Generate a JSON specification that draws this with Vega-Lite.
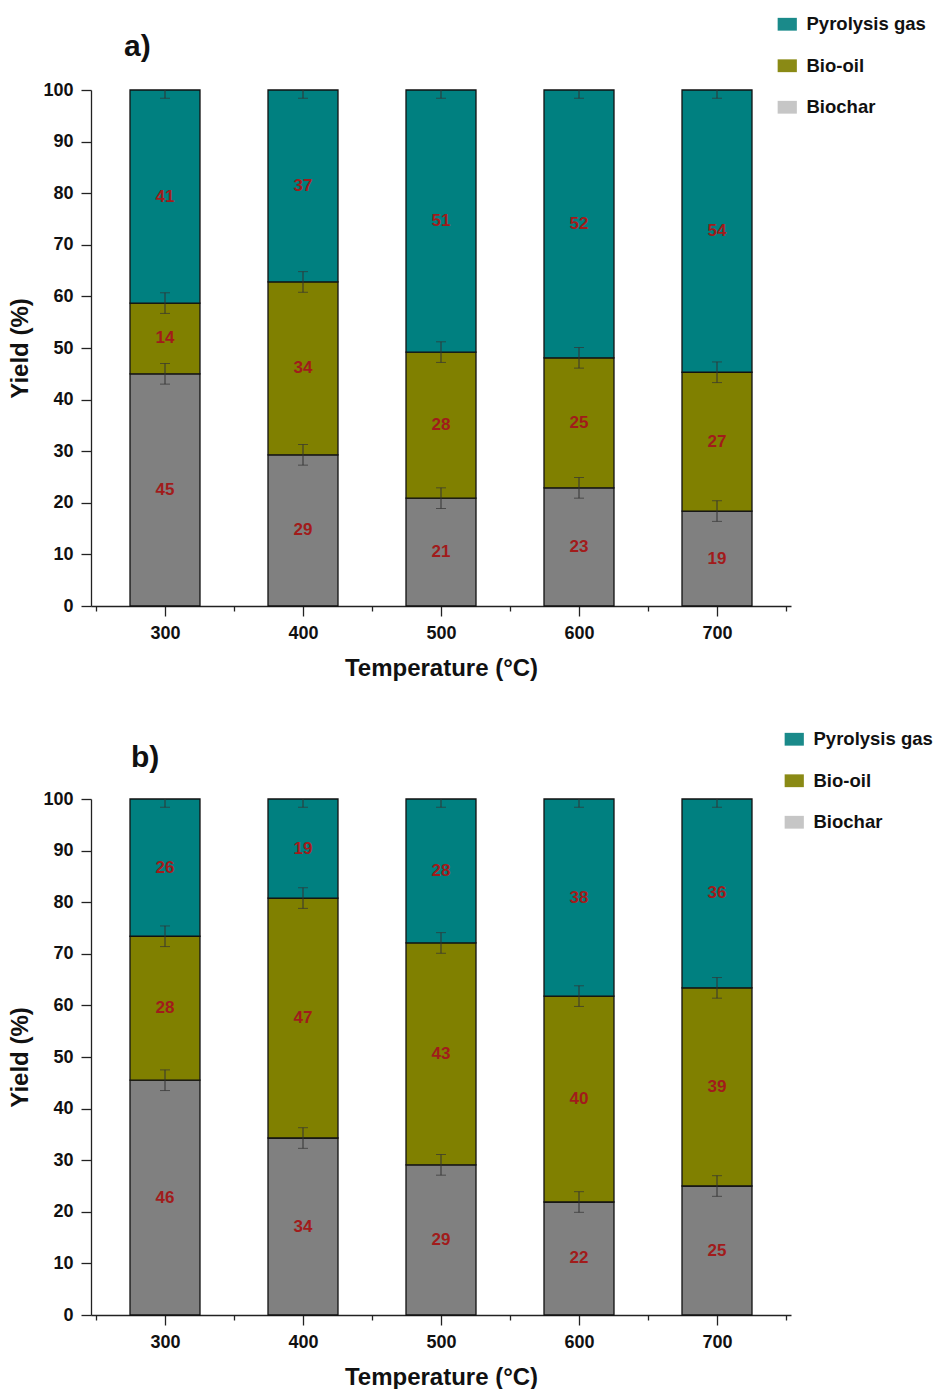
{
  "$schema": "https://vega.github.io/schema/vega-lite/v6.json",
  "padding": {"top": 15, "left": 8, "right": 0, "bottom": 0},
  "background": "white",
  "spacing": 50,
  "resolve": {"legend": {"fill": "independent", "color": "independent"}},
  "datasets": {
    "a": [
      {"temp": 300, "product": "Biochar", "value": 45.0, "label": "45", "order": 1, "err": 2},
      {"temp": 300, "product": "Bio-oil", "value": 13.7, "label": "14", "order": 2, "err": 2},
      {"temp": 300, "product": "Pyrolysis gas", "value": 41.3, "label": "41", "order": 3, "err": 1.6},
      {"temp": 400, "product": "Biochar", "value": 29.3, "label": "29", "order": 1, "err": 2},
      {"temp": 400, "product": "Bio-oil", "value": 33.5, "label": "34", "order": 2, "err": 2},
      {"temp": 400, "product": "Pyrolysis gas", "value": 37.2, "label": "37", "order": 3, "err": 1.6},
      {"temp": 500, "product": "Biochar", "value": 20.9, "label": "21", "order": 1, "err": 2},
      {"temp": 500, "product": "Bio-oil", "value": 28.3, "label": "28", "order": 2, "err": 2},
      {"temp": 500, "product": "Pyrolysis gas", "value": 50.8, "label": "51", "order": 3, "err": 1.6},
      {"temp": 600, "product": "Biochar", "value": 22.9, "label": "23", "order": 1, "err": 2},
      {"temp": 600, "product": "Bio-oil", "value": 25.2, "label": "25", "order": 2, "err": 2},
      {"temp": 600, "product": "Pyrolysis gas", "value": 51.9, "label": "52", "order": 3, "err": 1.6},
      {"temp": 700, "product": "Biochar", "value": 18.4, "label": "19", "order": 1, "err": 2},
      {"temp": 700, "product": "Bio-oil", "value": 26.9, "label": "27", "order": 2, "err": 2},
      {"temp": 700, "product": "Pyrolysis gas", "value": 54.7, "label": "54", "order": 3, "err": 1.6}
    ],
    "b": [
      {"temp": 300, "product": "Biochar", "value": 45.5, "label": "46", "order": 1, "err": 2},
      {"temp": 300, "product": "Bio-oil", "value": 27.9, "label": "28", "order": 2, "err": 2},
      {"temp": 300, "product": "Pyrolysis gas", "value": 26.6, "label": "26", "order": 3, "err": 1.6},
      {"temp": 400, "product": "Biochar", "value": 34.3, "label": "34", "order": 1, "err": 2},
      {"temp": 400, "product": "Bio-oil", "value": 46.5, "label": "47", "order": 2, "err": 2},
      {"temp": 400, "product": "Pyrolysis gas", "value": 19.2, "label": "19", "order": 3, "err": 1.6},
      {"temp": 500, "product": "Biochar", "value": 29.1, "label": "29", "order": 1, "err": 2},
      {"temp": 500, "product": "Bio-oil", "value": 43.0, "label": "43", "order": 2, "err": 2},
      {"temp": 500, "product": "Pyrolysis gas", "value": 27.9, "label": "28", "order": 3, "err": 1.6},
      {"temp": 600, "product": "Biochar", "value": 21.9, "label": "22", "order": 1, "err": 2},
      {"temp": 600, "product": "Bio-oil", "value": 39.9, "label": "40", "order": 2, "err": 2},
      {"temp": 600, "product": "Pyrolysis gas", "value": 38.2, "label": "38", "order": 3, "err": 1.6},
      {"temp": 700, "product": "Biochar", "value": 25.0, "label": "25", "order": 1, "err": 2},
      {"temp": 700, "product": "Bio-oil", "value": 38.4, "label": "39", "order": 2, "err": 2},
      {"temp": 700, "product": "Pyrolysis gas", "value": 36.6, "label": "36", "order": 3, "err": 1.6}
    ]
  },
  "vconcat": [
    {
      "width": 700,
      "height": 516,
      "title": {"text": "a)", "anchor": "start", "frame": "group", "dx": 33, "offset": -47, "fontSize": 30, "font": "Liberation Sans", "fontWeight": "bold", "color": "#111"},
      "data": {"name": "a"},
      "transform": [
        {"stack": "value", "groupby": ["temp"], "sort": [{"field": "order", "order": "ascending"}], "as": ["y0", "y1"]},
        {"calculate": "(datum.y0 + datum.y1) / 2", "as": "mid"},
        {"calculate": "datum.y1 - datum.err", "as": "lo"},
        {"calculate": "datum.y1 + datum.err", "as": "hi"}
      ],
      "layer": [
        {
          "mark": {"type": "bar", "size": 70, "orient": "vertical", "stroke": "#111", "strokeWidth": 1.3},
          "encoding": {
            "x": {"field": "temp", "type": "quantitative", "scale": {"domain": [250, 750], "nice": false, "zero": false},
              "axis": {"values": [250, 300, 350, 400, 450, 500, 550, 600, 650, 700, 750], "labelExpr": "datum.value % 100 === 0 ? datum.label : ''", "tickSize": {"condition": {"test": "datum.value % 100 === 0", "value": 10}, "value": 5}, "labelPadding": 8, "title": "Temperature (°C)", "titlePadding": 14}},
            "y": {"field": "y0", "type": "quantitative", "scale": {"domain": [0, 100], "nice": false},
              "axis": {"values": [0, 5, 10, 15, 20, 25, 30, 35, 40, 45, 50, 55, 60, 65, 70, 75, 80, 85, 90, 95, 100], "labelExpr": "datum.value % 10 === 0 ? datum.label : ''", "tickSize": {"condition": {"test": "datum.value % 10 === 0", "value": 10}, "value": 6}, "labelPadding": 8, "title": "Yield (%)", "titlePadding": 10}},
            "y2": {"field": "y1"},
            "color": {"field": "product", "type": "nominal",
              "scale": {"domain": ["Biochar", "Bio-oil", "Pyrolysis gas"], "range": ["#808080", "#808000", "#008080"]},
              "legend": null}
          }
        },
        {
          "mark": {"type": "point", "size": 0, "filled": true, "opacity": 1, "strokeWidth": 0},
          "encoding": {
            "x": {"field": "temp", "type": "quantitative"},
            "y": {"field": "y1", "type": "quantitative"},
            "fill": {"field": "product", "type": "nominal",
              "scale": {"domain": ["Pyrolysis gas", "Bio-oil", "Biochar"], "range": ["#1a8a8a", "#8a8a15", "#c6c6c6"]},
              "legend": {"orient": "none", "legendX": 687, "legendY": -75, "title": null, "symbolType": "M-1.2,-0.8H1.2V0.8H-1.2Z", "symbolSize": 256, "symbolStrokeWidth": 0, "symbolOpacity": 1, "labelFont": "Liberation Sans", "labelFontWeight": "bold", "labelFontSize": 18.5, "labelColor": "#111", "labelOffset": 10, "rowPadding": 22.5}}
          }
        },
        {
          "mark": {"type": "rule", "color": "#333", "strokeWidth": 1, "clip": true},
          "encoding": {"x": {"field": "temp", "type": "quantitative"}, "y": {"field": "lo", "type": "quantitative"}, "y2": {"field": "hi"}}
        },
        {
          "mark": {"type": "tick", "orient": "horizontal", "size": 10, "thickness": 1, "color": "#333", "clip": true},
          "encoding": {"x": {"field": "temp", "type": "quantitative"}, "y": {"field": "lo", "type": "quantitative"}}
        },
        {
          "mark": {"type": "tick", "orient": "horizontal", "size": 10, "thickness": 1, "color": "#333", "clip": true},
          "encoding": {"x": {"field": "temp", "type": "quantitative"}, "y": {"field": "hi", "type": "quantitative"}}
        },
        {
          "mark": {"type": "text", "font": "Liberation Sans", "fontWeight": "bold", "fontSize": 17, "color": "#a11b1b"},
          "encoding": {"x": {"field": "temp", "type": "quantitative"}, "y": {"field": "mid", "type": "quantitative"}, "text": {"field": "label"}}
        }
      ]
    },
    {
      "width": 700,
      "height": 516,
      "title": {"text": "b)", "anchor": "start", "frame": "group", "dx": 40, "offset": -43, "fontSize": 30, "font": "Liberation Sans", "fontWeight": "bold", "color": "#111"},
      "data": {"name": "b"},
      "transform": [
        {"stack": "value", "groupby": ["temp"], "sort": [{"field": "order", "order": "ascending"}], "as": ["y0", "y1"]},
        {"calculate": "(datum.y0 + datum.y1) / 2", "as": "mid"},
        {"calculate": "datum.y1 - datum.err", "as": "lo"},
        {"calculate": "datum.y1 + datum.err", "as": "hi"}
      ],
      "layer": [
        {
          "mark": {"type": "bar", "size": 70, "orient": "vertical", "stroke": "#111", "strokeWidth": 1.3},
          "encoding": {
            "x": {"field": "temp", "type": "quantitative", "scale": {"domain": [250, 750], "nice": false, "zero": false},
              "axis": {"values": [250, 300, 350, 400, 450, 500, 550, 600, 650, 700, 750], "labelExpr": "datum.value % 100 === 0 ? datum.label : ''", "tickSize": {"condition": {"test": "datum.value % 100 === 0", "value": 10}, "value": 5}, "labelPadding": 8, "title": "Temperature (°C)", "titlePadding": 14}},
            "y": {"field": "y0", "type": "quantitative", "scale": {"domain": [0, 100], "nice": false},
              "axis": {"values": [0, 5, 10, 15, 20, 25, 30, 35, 40, 45, 50, 55, 60, 65, 70, 75, 80, 85, 90, 95, 100], "labelExpr": "datum.value % 10 === 0 ? datum.label : ''", "tickSize": {"condition": {"test": "datum.value % 10 === 0", "value": 10}, "value": 6}, "labelPadding": 8, "title": "Yield (%)", "titlePadding": 10}},
            "y2": {"field": "y1"},
            "color": {"field": "product", "type": "nominal",
              "scale": {"domain": ["Biochar", "Bio-oil", "Pyrolysis gas"], "range": ["#808080", "#808000", "#008080"]},
              "legend": null}
          }
        },
        {
          "mark": {"type": "point", "size": 0, "filled": true, "opacity": 1, "strokeWidth": 0},
          "encoding": {
            "x": {"field": "temp", "type": "quantitative"},
            "y": {"field": "y1", "type": "quantitative"},
            "fill": {"field": "product", "type": "nominal",
              "scale": {"domain": ["Pyrolysis gas", "Bio-oil", "Biochar"], "range": ["#1a8a8a", "#8a8a15", "#c6c6c6"]},
              "legend": {"orient": "none", "legendX": 694, "legendY": -69, "title": null, "symbolType": "M-1.2,-0.8H1.2V0.8H-1.2Z", "symbolSize": 256, "symbolStrokeWidth": 0, "symbolOpacity": 1, "labelFont": "Liberation Sans", "labelFontWeight": "bold", "labelFontSize": 18.5, "labelColor": "#111", "labelOffset": 10, "rowPadding": 22.5}}
          }
        },
        {
          "mark": {"type": "rule", "color": "#333", "strokeWidth": 1, "clip": true},
          "encoding": {"x": {"field": "temp", "type": "quantitative"}, "y": {"field": "lo", "type": "quantitative"}, "y2": {"field": "hi"}}
        },
        {
          "mark": {"type": "tick", "orient": "horizontal", "size": 10, "thickness": 1, "color": "#333", "clip": true},
          "encoding": {"x": {"field": "temp", "type": "quantitative"}, "y": {"field": "lo", "type": "quantitative"}}
        },
        {
          "mark": {"type": "tick", "orient": "horizontal", "size": 10, "thickness": 1, "color": "#333", "clip": true},
          "encoding": {"x": {"field": "temp", "type": "quantitative"}, "y": {"field": "hi", "type": "quantitative"}}
        },
        {
          "mark": {"type": "text", "font": "Liberation Sans", "fontWeight": "bold", "fontSize": 17, "color": "#a11b1b"},
          "encoding": {"x": {"field": "temp", "type": "quantitative"}, "y": {"field": "mid", "type": "quantitative"}, "text": {"field": "label"}}
        }
      ]
    }
  ],
  "config": {
    "view": {"stroke": null},
    "axis": {"grid": false, "labelFont": "Liberation Sans", "labelFontWeight": "bold", "labelFontSize": 18, "labelColor": "#111", "titleFont": "Liberation Sans", "titleFontWeight": "bold", "titleFontSize": 24, "titleColor": "#111", "domainColor": "#222", "tickColor": "#222", "domainWidth": 1.3, "tickWidth": 1.3}
  }
}
